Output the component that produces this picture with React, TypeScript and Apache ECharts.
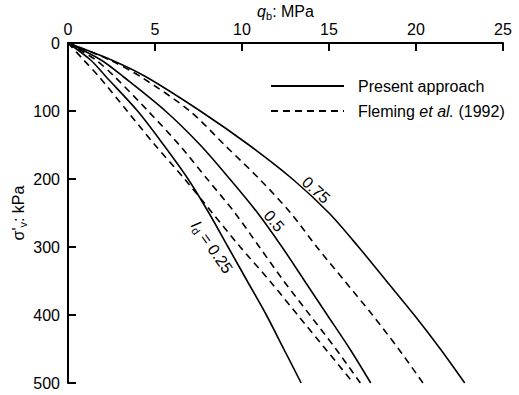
import React, { useEffect, useRef } from "react";
import * as echarts from "echarts";

const depths = [0, 25, 50, 100, 150, 200, 250, 300, 350, 400, 450, 500];
const present025 = [0, 1.3, 2.2, 4.0, 5.5, 6.9, 8.1, 9.2, 10.3, 11.4, 12.4, 13.4];
const present05 = [0, 1.9, 3.2, 5.6, 7.6, 9.3, 10.9, 12.3, 13.6, 14.9, 16.2, 17.4];
const present075 = [0, 2.5, 4.5, 7.6, 10.4, 12.9, 15.0, 16.7, 18.3, 19.9, 21.4, 22.8];
const fleming025 = [0, 0.9, 1.8, 3.4, 5.0, 6.7, 8.3, 9.9, 11.6, 13.2, 14.8, 16.4];
const fleming05 = [0, 1.6, 2.7, 4.6, 6.4, 8.0, 9.6, 11.0, 12.4, 13.9, 15.4, 16.8];
const fleming075 = [0, 2.4, 4.2, 7.0, 9.0, 11.0, 12.8, 14.3, 15.9, 17.5, 19.0, 20.4];

const xTickValues = [0, 5, 10, 15, 20, 25];
const yTickValues = [0, 100, 200, 300, 400, 500];

const PRESENT = "Present approach";
const FLEMING = "Fleming et al. (1992)";

const FONT = "Liberation Sans, Arial, Helvetica, sans-serif";

function pairs(vals: number[]) {
  return depths.map((d, i) => [vals[i], d]);
}

export default function App() {
  const ref = useRef<HTMLDivElement>(null);
  useEffect(() => {
    if (!ref.current) return;
    const chart = echarts.init(ref.current, null, { renderer: "svg" });
    const mkSeries = (name: string, vals: number[], dashed: boolean) => ({
      type: "line",
      name,
      data: pairs(vals),
      symbol: "none",
      smooth: 0.3,
      silent: true,
      lineStyle: { color: "#000", width: 1.6, type: dashed ? [7, 5] : "solid" },
      itemStyle: { color: "#000" },
    });
    const TICK_LEN = 8;
    const tickSeries = (vals: number[], horizontal: boolean) => ({
      type: "custom",
      silent: true,
      clip: false,
      z: 5,
      data: vals.map((v) => (horizontal ? [v, 0] : [0, v])),
      renderItem: (_params: any, api: any) => {
        const p = api.coord([api.value(0), api.value(1)]);
        return {
          type: "rect",
          shape: horizontal
            ? { x: p[0] - 1, y: p[1], width: 2, height: TICK_LEN }
            : { x: p[0], y: p[1] - 1, width: TICK_LEN, height: 2 },
          style: { fill: "#000" },
        };
      },
    });
    chart.setOption({
      animation: false,
      backgroundColor: "#fff",
      textStyle: { fontFamily: FONT, color: "#000" },
      grid: { left: 68, right: 16, top: 43, bottom: 12, containLabel: false, outerBoundsMode: "none" },
      xAxis: {
        type: "value",
        position: "top",
        min: xTickValues[0],
        max: xTickValues[xTickValues.length - 1],
        interval: 5,
        axisLine: { show: true, onZero: false, lineStyle: { color: "#000", width: 2 } },
        axisTick: { show: false },
        splitLine: { show: false },
        axisLabel: { show: true, color: "#000", fontSize: 16, fontFamily: FONT, margin: 6 },
        name: "{i|q}{s|b}: MPa",
        nameLocation: "middle",
        nameGap: 22,
        nameMoveOverlap: false,
        nameTextStyle: {
          color: "#000",
          fontSize: 16,
          fontFamily: FONT,
          rich: {
            i: { fontStyle: "italic", fontSize: 16, fontFamily: FONT, color: "#000" },
            s: { fontSize: 11, fontFamily: FONT, color: "#000", padding: [8, 0, 0, 0] },
          },
        },
      },
      yAxis: {
        type: "value",
        inverse: true,
        min: yTickValues[0],
        max: yTickValues[yTickValues.length - 1],
        interval: 100,
        axisLine: { show: true, onZero: false, lineStyle: { color: "#000", width: 2 } },
        axisTick: { show: false },
        splitLine: { show: false },
        axisLabel: { show: true, color: "#000", fontSize: 16, fontFamily: FONT, margin: 8 },
        name: "σ'{s|v}: kPa",
        nameLocation: "middle",
        nameGap: 40,
        nameMoveOverlap: false,
        nameRotate: 90,
        nameTextStyle: {
          color: "#000",
          fontSize: 16,
          fontFamily: FONT,
          rich: {
            s: { fontSize: 11, fontFamily: FONT, color: "#000", padding: [8, 0, 0, 0] },
          },
        },
      },
      legend: {
        data: [PRESENT, FLEMING],
        orient: "vertical",
        left: 270,
        top: 78,
        padding: 0,
        itemWidth: 73,
        itemHeight: 14,
        itemGap: 9,
        selectedMode: false,
        itemStyle: { opacity: 0 },
        formatter: (n: string) => (n === FLEMING ? "Fleming {it|et al.} (1992)" : n),
        textStyle: {
          fontSize: 16,
          color: "#000",
          fontFamily: FONT,
          padding: [0, 0, 0, 9],
          rich: {
            it: { fontStyle: "italic", fontSize: 16, color: "#000", fontFamily: FONT },
          },
        },
      },
      series: [
        mkSeries(PRESENT, present025, false),
        mkSeries(PRESENT, present05, false),
        mkSeries(PRESENT, present075, false),
        mkSeries(FLEMING, fleming025, true),
        mkSeries(FLEMING, fleming05, true),
        mkSeries(FLEMING, fleming075, true),
        tickSeries(xTickValues, true),
        tickSeries(yTickValues, false),
      ],
      graphic: [
        {
          type: "text",
          x: 316,
          y: 190,
          rotation: -0.75,
          style: { text: "0.75", fontSize: 16, fontFamily: FONT, fill: "#000", align: "center", verticalAlign: "middle" },
        },
        {
          type: "text",
          x: 274,
          y: 221,
          rotation: -0.87,
          style: { text: "0.5", fontSize: 16, fontFamily: FONT, fill: "#000", align: "center", verticalAlign: "middle" },
        },
        {
          type: "text",
          x: 212,
          y: 247,
          rotation: -0.96,
          style: {
            text: "{i|I}{s|d} = 0.25",
            fontSize: 16,
            fontFamily: FONT,
            fill: "#000",
            align: "center",
            verticalAlign: "middle",
            rich: {
              i: { fontStyle: "italic", fontSize: 16, fontFamily: FONT, fill: "#000" },
              s: { fontSize: 11, fontFamily: FONT, fill: "#000", padding: [8, 0, 0, 0] },
            },
          },
        },
      ],
    });
    return () => chart.dispose();
  }, []);
  return (
    <div
      ref={ref}
      style={{ position: "fixed", left: 0, top: 0, width: 519, height: 395, background: "#fff" }}
    />
  );
}
